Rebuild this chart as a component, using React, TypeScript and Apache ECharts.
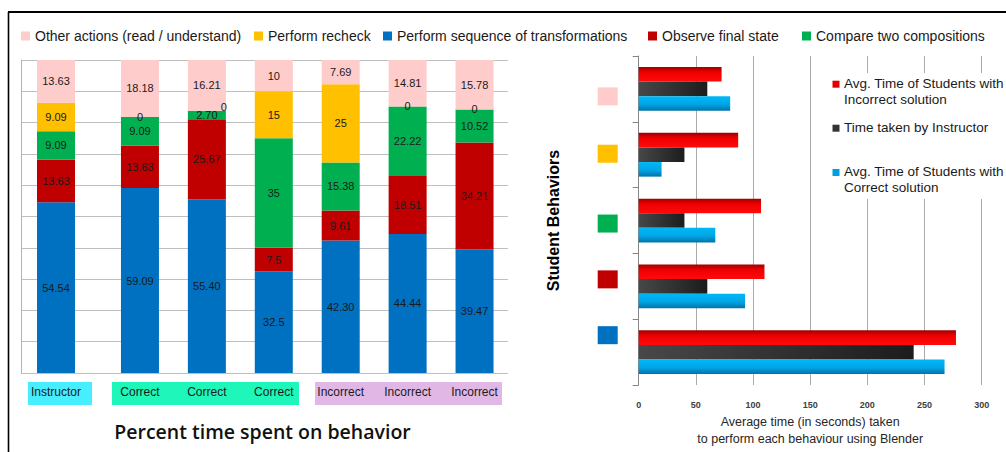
import React, { useEffect, useRef } from 'react';
import * as echarts from 'echarts';

// ---------- Left chart: percent time spent on behaviour ----------
const instructorCategories = ['Instructor'];
const studentCategories = ['Correct', 'Correct', 'Correct', 'Incorrect', 'Incorrect', 'Incorrect'];
const behaviorNames = [
  'Perform sequence of transformations',
  'Observe final state',
  'Compare two compositions',
  'Perform recheck',
  'Other actions (read / understand)',
];
// one value per bar: Instructor, Correct x3, Incorrect x3
const sequencePct = ['54.54', '59.09', '55.40', '32.5', '42.30', '44.44', '39.47'];
const observePct = ['13.63', '13.63', '25.67', '7.5', '9.61', '18.51', '34.21'];
const comparePct = ['9.09', '9.09', '2.70', '35', '15.38', '22.22', '10.52'];
const recheckPct = ['9.09', '0', '0', '15', '25', '0', '0'];
const otherPct = ['13.63', '18.18', '16.21', '10', '7.69', '14.81', '15.78'];

// ---------- Right chart: seconds per behaviour (bottom to top) ----------
const timeCategories = behaviorNames;
const incorrectSec = [277.5, 110, 107, 87, 72.5];
const instructorSec = [240.5, 60, 40, 40, 60];
const correctSec = [267.5, 93, 67, 20, 80];
const rightSeriesNames = [
  'Avg. Time of Students with Incorrect solution',
  'Time taken by Instructor',
  'Avg. Time of Students with Correct solution',
];

// ---------- styles ----------
const behaviorColors = ['#0070C0', '#C00000', '#00B050', '#FFC000', '#FFCCCC'];
const squareShift = [-17, -7, 3, -1, 7.5]; // vertical nudge of the colour squares
const FONT = 'Liberation Sans';

export default function App() {
  const ref = useRef<HTMLDivElement>(null);

  useEffect(() => {
    if (!ref.current) return;
    const chart = echarts.init(ref.current, undefined, { renderer: 'svg' });

    const pctArrays = [sequencePct, observePct, comparePct, recheckPct, otherPct];
    const series: any[] = [];
    const labelStyle = {
      show: true,
      position: 'inside',
      fontFamily: FONT,
      fontSize: 11,
      color: '#1a1a1a',
      formatter: (p: any) => String(p.data.value),
    };
    behaviorNames.forEach((name, k) => {
      const vals = pctArrays[k];
      const mk = (arr: string[], start: number) =>
        arr.map((v, j) => {
          const item: any = { value: v };
          if (k === 3 && start + j === 2) item.label = { offset: [17, -4] };
          return item;
        });
      series.push({
        type: 'bar', name, xAxisIndex: 1, yAxisIndex: 1, stack: 'instr', barWidth: 38,
        data: mk(vals.slice(0, 1), 0), itemStyle: { color: behaviorColors[k] }, label: labelStyle,
      });
      series.push({
        type: 'bar', name, xAxisIndex: 2, yAxisIndex: 2, stack: 'stud', barWidth: 38,
        data: mk(vals.slice(1), 1), itemStyle: { color: behaviorColors[k] }, label: labelStyle,
      });
    });

    const redGrad = new echarts.graphic.LinearGradient(0, 0, 0, 1, [
      { offset: 0, color: '#9e0000' }, { offset: 0.35, color: '#ee0000' }, { offset: 1, color: '#ff0a0a' },
    ]);
    const blackGrad = new echarts.graphic.LinearGradient(0, 0, 1, 0, [
      { offset: 0, color: '#484848' }, { offset: 1, color: '#1c1c1c' },
    ]);
    const blueGrad = new echarts.graphic.LinearGradient(0, 0, 0, 1, [
      { offset: 0, color: '#00b8f5' }, { offset: 0.55, color: '#00a6e6' }, { offset: 1, color: '#0073a8' },
    ]);
    const rightData = [incorrectSec, instructorSec, correctSec];
    const rightColors = [redGrad, blackGrad, blueGrad];
    rightSeriesNames.forEach((name, i) => {
      series.push({
        type: 'bar', name, xAxisIndex: 3, yAxisIndex: 3, barWidth: 14.6, barGap: '0%',
        data: rightData[i], itemStyle: { color: rightColors[i] },
      });
    });

    const catLabel = { fontFamily: FONT, fontSize: 12, color: '#1a1a1a', margin: 13, interval: 0 };

    const rich: any = {};
    behaviorColors.forEach((c, i) => {
      rich['s' + i] = { width: 20, height: 18, backgroundColor: c };
      rich['g' + i] = { width: 20, height: Math.abs(squareShift[i]) * 2 };
    });

    const legendBase = {
      padding: 0, itemWidth: 9, itemHeight: 9, icon: 'rect', selectedMode: false, top: 29,
      textStyle: { fontSize: 14, fontFamily: FONT, color: '#1a1a1a' },
    };
    const legendLefts = [21, 254, 383, 648, 802];
    const legendOrder = [4, 3, 0, 1, 2];

    const rightLegendSq = [
      { y: 80.7, c: '#e00000' },
      { y: 124.7, c: '#333333' },
      { y: 169, c: '#00a0e0' },
    ];
    const rightLegendTxt = [
      { y: 75.5, t: 'Avg. Time of Students with\nIncorrect solution' },
      { y: 119.5, t: 'Time taken by Instructor' },
      { y: 163.5, t: 'Avg. Time of Students with\nCorrect solution' },
    ];

    const graphic: any[] = [
      { type: 'line', shape: { x1: 8, y1: 12, x2: 1006, y2: 12 }, style: { stroke: '#000', lineWidth: 2 } },
      { type: 'line', shape: { x1: 8.5, y1: 12, x2: 8.5, y2: 452 }, style: { stroke: '#000', lineWidth: 1.6 } },
      { type: 'rect', z: -1, shape: { x: 28, y: 382, width: 64, height: 23 }, style: { fill: '#47EEFF' } },
      { type: 'rect', z: -1, shape: { x: 112, y: 382, width: 187, height: 23 }, style: { fill: '#1EF6BA' } },
      { type: 'rect', z: -1, shape: { x: 315, y: 382, width: 187, height: 23 }, style: { fill: '#E1B7E6' } },
      {
        type: 'text', x: 262.5, y: 431.5,
        style: {
          text: 'Percent time spent on behavior', fontSize: 19.5, fontWeight: 600, fontFamily: 'Open Sans',
          fill: '#111', align: 'center', verticalAlign: 'middle', textAlign: 'center', textVerticalAlign: 'middle',
        },
      },
      { type: 'rect', z: 5, shape: { x: 826, y: 73, width: 180, height: 126 }, style: { fill: '#fff' } },
      ...rightLegendSq.map((s) => ({
        type: 'rect', z: 6, shape: { x: 832.5, y: s.y, width: 7, height: 7 }, style: { fill: s.c },
      })),
      ...rightLegendTxt.map((s) => ({
        type: 'text', z: 6, x: 844, y: s.y,
        style: {
          text: s.t, fontSize: 13.5, fontFamily: FONT, fill: '#1a1a1a', lineHeight: 16,
          align: 'left', verticalAlign: 'top', textAlign: 'left', textVerticalAlign: 'top',
        },
      })),
    ];

    chart.setOption({
      animation: false,
      backgroundColor: '#ffffff',
      textStyle: { fontFamily: FONT },
      legend: legendOrder.map((k, i) => ({ ...legendBase, left: legendLefts[i], data: [behaviorNames[k]] })),
      grid: [
        { left: 21, top: 60, width: 487, height: 313 },
        { left: 21, top: 60, width: 70, height: 313 },
        { left: 106.5, top: 60, width: 401.5, height: 313 },
        { left: 638.7, top: 56, width: 343, height: 332 },
      ],
      xAxis: [
        { gridIndex: 0, type: 'value', min: 0, max: 1, show: false },
        {
          gridIndex: 1, type: 'category', data: instructorCategories,
          axisLine: { show: false }, axisTick: { show: false }, axisLabel: catLabel,
        },
        {
          gridIndex: 2, type: 'category', data: studentCategories,
          axisLine: { show: false }, axisTick: { show: false }, axisLabel: catLabel,
        },
        {
          gridIndex: 3, type: 'value', min: 0, max: 300, interval: 50,
          axisLine: { show: false }, axisTick: { show: false },
          splitLine: { lineStyle: { color: '#ABABAB' } },
          axisLabel: { fontFamily: FONT, fontSize: 9, fontWeight: 'bold', color: '#404040', margin: 15 },
          name: 'Average time (in seconds) taken\nto perform each behaviour using Blender',
          nameLocation: 'middle', nameGap: 26,
          nameTextStyle: { fontFamily: FONT, fontSize: 12.5, color: '#262626', lineHeight: 16.5 },
        },
      ],
      yAxis: [
        {
          gridIndex: 0, type: 'value', min: 0, max: 100, interval: 10,
          axisLine: { show: true, onZero: false, lineStyle: { color: '#B3B3B3' } },
          axisTick: { show: false }, axisLabel: { show: false },
          splitLine: { lineStyle: { color: '#BFBFBF' } },
        },
        { gridIndex: 1, type: 'value', min: 0, max: 100, show: false },
        { gridIndex: 2, type: 'value', min: 0, max: 100, show: false },
        {
          gridIndex: 3, type: 'category', data: timeCategories,
          axisLine: { show: true, onZero: false, lineStyle: { color: '#868686' } },
          axisTick: { show: true, length: 6, lineStyle: { color: '#868686' } },
          axisLabel: {
            margin: 21,
            formatter: (_v: string, i: number) => {
              const sh = squareShift[i];
              if (sh > 0) return `{g${i}| }\n{s${i}| }`;
              return `{s${i}| }\n{g${i}| }`;
            },
            rich,
          },
          name: 'Student Behaviors', nameLocation: 'middle', nameRotate: 90, nameGap: 77,
          nameTextStyle: { fontFamily: FONT, fontSize: 16, fontWeight: 'bold', color: '#000' },
        },
      ],
      series,
      graphic,
    });

    return () => chart.dispose();
  }, []);

  return (
    <div
      ref={ref}
      style={{ position: 'fixed', left: 0, top: 0, width: 1006, height: 452, background: '#fff' }}
    />
  );
}
